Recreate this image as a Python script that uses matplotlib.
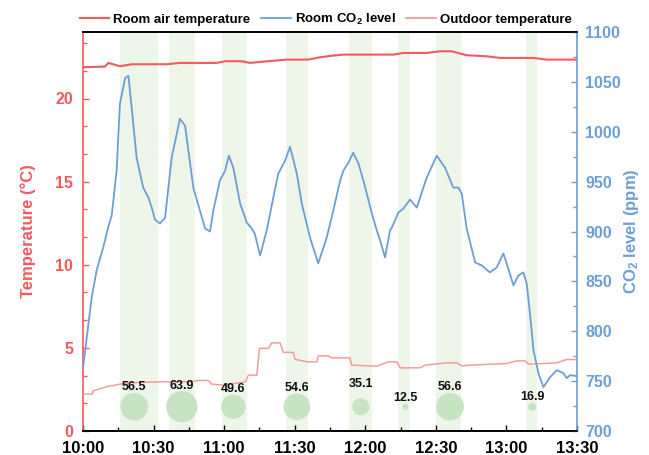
import matplotlib
matplotlib.use("Agg")
import matplotlib.pyplot as plt
from matplotlib.ticker import MultipleLocator, FixedLocator
from matplotlib.lines import Line2D

plt.rcParams['font.family'] = ['Liberation Sans', 'DejaVu Sans']
plt.rcParams['mathtext.default'] = 'regular'

# ---------------- data ----------------
# time in minutes after 10:00
room_t_min = [0, 5, 9.3, 10.8, 15.7, 20.7, 35.6, 41.2, 56.8, 60.4, 67.5, 71, 75.3, 86.6,
              95.7, 100.8, 105, 110.7, 132, 136.2, 146.1, 151.8, 156.8, 163.1, 171.6,
              177.3, 191.5, 197.1, 210]
room_temp = [21.88, 21.9, 21.92, 22.14, 21.94, 22.06, 22.06, 22.14, 22.14, 22.24, 22.24,
             22.14, 22.2, 22.34, 22.34, 22.48, 22.56, 22.64, 22.64, 22.74, 22.74, 22.84,
             22.84, 22.6, 22.54, 22.44, 22.44, 22.34, 22.34]

out_t_min = [0, 4, 4.3, 10, 15.7, 20, 32.7, 45.5, 49, 53.3, 54.7, 59.7, 69, 70.3, 73.9,
             75, 78.8, 80.2, 83.8, 85.2, 89.4, 90.1, 95.1, 99.4, 100, 104.3, 105.7, 113.5,
             114.2, 124.9, 129.8, 133.4, 134.8, 143.3, 145.4, 154.6, 158.9, 161, 164.5,
             180.1, 184.4, 187.9, 189.4, 201.4, 205.6, 210]
out_temp = [2.22, 2.22, 2.42, 2.66, 2.82, 2.9, 2.96, 2.96, 3.04, 3.04, 2.82, 2.76, 2.96,
            3.36, 3.36, 4.97, 4.97, 5.3, 5.3, 4.73, 4.73, 4.32, 4.16, 4.16, 4.52, 4.52,
            4.4, 4.4, 3.96, 3.9, 4.16, 4.16, 3.8, 3.8, 3.96, 4.1, 4.1, 3.92, 3.96, 4.06,
            4.22, 4.22, 4.02, 4.1, 4.3, 4.3]

co2_min = [0, 3.7, 5.8, 8.6, 10.8, 12.2, 14.3, 15.7, 17.9, 19.3, 20.7, 22.8, 25.6, 27.8,
           29.2, 30.6, 32.7, 34.9, 37.7, 41.2, 43.4, 46.9, 49.7, 51.9, 54, 55.4, 58.2,
           60.4, 62, 63.9, 66.8, 69.6, 71.7, 73, 75.3, 78.1, 80.9, 83, 85.9, 88, 90.9,
           93, 95.8, 96.5, 100, 103.6, 106.4, 109.3, 110.7, 112.8, 114.9, 117.1, 119.2,
           122.7, 124.9, 126.3, 128.4, 130.5, 131.3, 134.1, 136.2, 139, 141.9, 146.1,
           150.4, 153.9, 157.4, 159.6, 161, 163.1, 166.7, 169.5, 173, 175.9, 178.7,
           180.1, 183, 185.1, 187.2, 188.6, 190, 191.5, 193.6, 195.7, 198.6, 201.4,
           204.2, 205.6, 207.1, 210]
co2_ppm = [763, 834, 861, 884, 905, 916, 961, 1028, 1054, 1056, 1024, 974, 944, 934,
           924, 912, 908, 914, 974, 1013, 1006, 944, 921, 903, 900, 921, 951,
           961, 976, 964, 928, 909, 903, 898, 876, 901, 934, 958, 971, 985, 958,
           928, 901, 894, 868, 894, 921, 951, 961, 969, 979, 968, 951,
           919, 901, 891, 874, 901, 904, 919, 923, 932, 924, 954,
           976, 964, 944, 944, 938, 903, 869, 866, 859, 864, 878,
           868, 846, 856, 859, 848, 818, 781, 758, 744, 754, 761,
           758, 753, 756, 755]

band_start = [15.7, 36.7, 59, 86.2, 113.1, 134.1, 150.1, 188.2]
band_end = [31.8, 47.6, 69.9, 95.8, 122.7, 139, 160.7, 192.9]

bubble_min = [21.8, 42, 63.9, 90.9, 118.1, 137, 156, 191]
bubble_val = [56.5, 63.9, 49.6, 54.6, 35.1, 12.5, 56.6, 16.9]

xtick_min = [0, 30, 60, 90, 120, 150, 180, 210]
xtick_labels = ["10:00", "10:30", "11:00", "11:30", "12:00", "12:30", "13:00", "13:30"]

# ---------------- style ----------------
RED = '#f25a5e'
SALMON = '#f59c9c'
BLUE = '#6b9fd6'
BAND = '#eef6ea'
BUBBLE = '#c7e4c2'

fig = plt.figure(figsize=(6.49, 4.55), dpi=100)
ax = fig.add_axes([83/649, 1-431/455, (577-83)/649, (431-32)/455])
ax2 = ax.twinx()

for s, e in zip(band_start, band_end):
    ax.axvspan(s, e, color=BAND, lw=0, zorder=0)

ax.plot(room_t_min, room_temp, color=RED, lw=1.5, zorder=3)
ax.plot(out_t_min, out_temp, color=SALMON, lw=1.1, zorder=3)

bubble_y = 1.46
px2pt = 72 / fig.dpi
radii_pt = [0.245 * v * px2pt for v in bubble_val]
ax.scatter(bubble_min, [bubble_y] * len(bubble_min),
           s=[(2 * r) ** 2 for r in radii_pt], color=BUBBLE, lw=0, zorder=2)
extra_lift = [0, 0, 0, 0, 9, 0, 0, 0]
for t, v, r, lift in zip(bubble_min, bubble_val, radii_pt, extra_lift):
    ax.annotate(f"{v:.1f}", (t, bubble_y), xytext=(0, r + 1.8 + lift * px2pt),
                textcoords='offset points', ha='center', va='baseline',
                fontsize=9, fontweight='bold', color='#111111', zorder=5)

ax2.plot(co2_min, co2_ppm, color=BLUE, lw=1.3, zorder=3)

# axes limits & ticks
ax.set_xlim(0, 210)
ax.set_ylim(0, 24)
ax2.set_ylim(700, 1100)

ax.xaxis.set_major_locator(FixedLocator(xtick_min))
ax.set_xticklabels(xtick_labels)
ax.xaxis.set_minor_locator(MultipleLocator(15))
ax.yaxis.set_major_locator(MultipleLocator(5))
ax.yaxis.set_minor_locator(MultipleLocator(5 / 3))
ax2.yaxis.set_major_locator(MultipleLocator(50))
ax2.yaxis.set_minor_locator(MultipleLocator(25))

ax.tick_params(axis='x', which='both', direction='in', color='black', labelsize=12, pad=7)
ax.tick_params(axis='x', which='major', length=4, width=1)
ax.tick_params(axis='x', which='minor', length=3, width=1)
ax.tick_params(axis='y', which='both', direction='in', color=RED, labelcolor=RED,
               labelsize=11.5, pad=7)
ax.tick_params(axis='y', which='major', length=4, width=1)
ax.tick_params(axis='y', which='minor', length=3, width=1)
ax2.tick_params(axis='y', which='both', direction='in', color=BLUE, labelcolor=BLUE,
                labelsize=11.5, pad=6)
ax2.tick_params(axis='y', which='major', length=4, width=1)
ax2.tick_params(axis='y', which='minor', length=3, width=1)

for lab in ax.get_xticklabels() + ax.get_yticklabels() + ax2.get_yticklabels():
    lab.set_fontweight('bold')

for a in (ax, ax2):
    a.spines['left'].set_color(RED)
    a.spines['right'].set_color(BLUE)
    a.spines['top'].set_color('black')
    a.spines['bottom'].set_color('black')
    for sp in a.spines.values():
        sp.set_linewidth(1.2)
ax.spines['right'].set_visible(False)
ax2.spines['left'].set_visible(False)

ax.set_ylabel("Temperature (°C)", color=RED, fontsize=12, fontweight='bold', labelpad=14)
ax2.set_ylabel("CO$_2$ level (ppm)", color=BLUE, fontsize=12, fontweight='bold', labelpad=1)

handles = [Line2D([], [], color=RED, lw=1.5),
           Line2D([], [], color=BLUE, lw=1.3),
           Line2D([], [], color=SALMON, lw=1.3)]
labels = ["Room air temperature", "Room CO$_2$ level", "Outdoor temperature"]
fig.legend(handles, labels, loc='center', bbox_to_anchor=(0.502, 0.957), ncol=3,
           frameon=False, prop={'size': 9.5, 'weight': 'bold'},
           handlelength=2.25, handletextpad=0.3, columnspacing=0.8, borderaxespad=0)

fig.savefig("out.png", dpi=100)
